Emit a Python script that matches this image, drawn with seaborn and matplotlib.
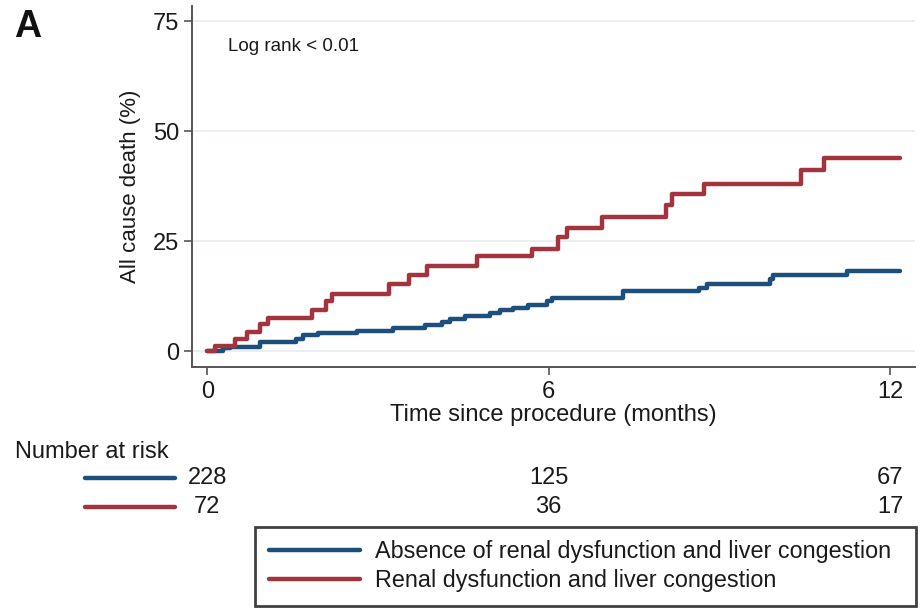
import matplotlib
matplotlib.use("Agg")
import matplotlib.pyplot as plt
import matplotlib.transforms as mtransforms
from matplotlib.lines import Line2D
import seaborn as sns
import pandas as pd

# Kaplan-Meier style cumulative all-cause death (%), step times in months
time_absent = [0.0, 0.28, 0.40, 0.93, 1.55, 1.69, 1.95, 2.63, 3.27, 3.83, 4.12, 4.27,
               4.53, 4.97, 5.15, 5.38, 5.64, 5.97, 6.06, 7.31, 8.65, 8.78, 9.89,
               9.94, 11.24, 12.17]
death_absent = [0.0, 0.7, 1.0, 2.0, 2.7, 3.6, 4.2, 4.6, 5.2, 5.9, 6.7, 7.3,
                8.0, 8.7, 9.3, 9.8, 10.5, 11.4, 12.0, 13.7, 14.4, 15.2, 16.5,
                17.4, 18.2, 18.2]

time_present = [0.0, 0.14, 0.49, 0.70, 0.93, 1.07, 1.84, 2.09, 2.19, 3.20, 3.54, 3.86,
                4.74, 5.70, 6.17, 6.32, 6.93, 8.06, 8.16, 8.73, 10.43, 10.84, 12.17]
death_present = [0.0, 1.2, 2.7, 4.4, 6.1, 7.6, 9.3, 11.4, 13.1, 15.2, 17.3, 19.3,
                 21.6, 23.3, 26.0, 28.1, 30.4, 33.2, 35.7, 38.1, 41.1, 44.0, 44.0]

group_labels = ["Absence of renal dysfunction and liver congestion",
                "Renal dysfunction and liver congestion"]
group_colors = ["#1d4f7c", "#a3343d"]

risk_times = [0, 6, 12]
risk_absent = [228, 125, 67]
risk_present = [72, 36, 17]

x_ticks = [0, 6, 12]
y_ticks = [0, 25, 50, 75]

sns.set_theme(style="white")
plt.rcParams["font.family"] = ["Liberation Sans", "DejaVu Sans"]

FS = 17
TEXT = "#1a1a1a"

df = pd.concat([
    pd.DataFrame({"time": time_absent, "death": death_absent, "group": group_labels[0]}),
    pd.DataFrame({"time": time_present, "death": death_present, "group": group_labels[1]}),
])

fig = plt.figure(figsize=(9.22, 6.08), dpi=100)
fig.patch.set_facecolor("white")
ax = fig.add_axes([192 / 922, 1 - 367 / 608, (915 - 192) / 922, (367 - 6) / 608])

sns.lineplot(data=df, x="time", y="death", hue="group", palette=group_colors,
             hue_order=group_labels, estimator=None, sort=False,
             drawstyle="steps-post", linewidth=3.2, legend=False, ax=ax)

ax.set_xlim(-0.27, 12.44)
ax.set_ylim(-3.6, 78.5)
ax.set_xticks(x_ticks)
ax.set_yticks(y_ticks)
ax.set_xticklabels([str(t) for t in x_ticks])
ax.set_yticklabels([str(t) for t in y_ticks])
ax.grid(axis="y", color="#e6ecef", linewidth=1.2)
ax.set_axisbelow(True)
for side in ["top", "right"]:
    ax.spines[side].set_visible(False)
for side in ["left", "bottom"]:
    ax.spines[side].set_color("#555555")
    ax.spines[side].set_linewidth(1.4)
ax.tick_params(axis="both", which="major", length=6, width=1.2, color="#555555",
               labelsize=FS, labelcolor=TEXT, direction="out", bottom=True, left=True)
ax.tick_params(axis="x", pad=4)
ax.tick_params(axis="y", pad=3)
ax.set_xlabel("Time since procedure (months)", fontsize=FS, color=TEXT, labelpad=1)
ax.set_ylabel("All cause death (%)", fontsize=16, color=TEXT, labelpad=9)

ax.text(0.05, 0.887, "Log rank < 0.01", transform=ax.transAxes, fontsize=13.5,
        color=TEXT, ha="left", va="center")
fig.text(14 / 922, 1 - 27 / 608, "A", fontsize=27, fontweight="bold", color="#111111",
         ha="left", va="center")

# Number-at-risk table
blend = mtransforms.blended_transform_factory(ax.transData, fig.transFigure)
fig.text(15 / 922, 1 - 452 / 608, "Number at risk", fontsize=FS, color=TEXT,
         ha="left", va="center")
for row_y, counts, color in [(478, risk_absent, group_colors[0]),
                              (507, risk_present, group_colors[1])]:
    fig.add_artist(Line2D([85 / 922, 175 / 922], [1 - row_y / 608] * 2,
                          transform=fig.transFigure, color=color, linewidth=3.2))
    for t, n in zip(risk_times, counts):
        fig.text(t, 1 - row_y / 608, str(n), transform=blend, fontsize=FS,
                 color=TEXT, ha="center", va="center")

# Legend box
handles = [Line2D([], [], color=c, linewidth=3.2) for c in group_colors]
leg = fig.legend(handles, group_labels, loc="lower left",
                 bbox_to_anchor=(255 / 922, 2 / 608, (916 - 255) / 922, (606 - 529) / 608),
                 mode="expand", fontsize=16.8, frameon=True, fancybox=False,
                 handlelength=3.9, handletextpad=0.68, labelspacing=0.27,
                 borderpad=0.58, borderaxespad=0)
leg.get_frame().set_edgecolor("#111111")
leg.get_frame().set_linewidth(2.0)
for txt in leg.get_texts():
    txt.set_color(TEXT)

fig.savefig("out.png", dpi=100, facecolor="white")
